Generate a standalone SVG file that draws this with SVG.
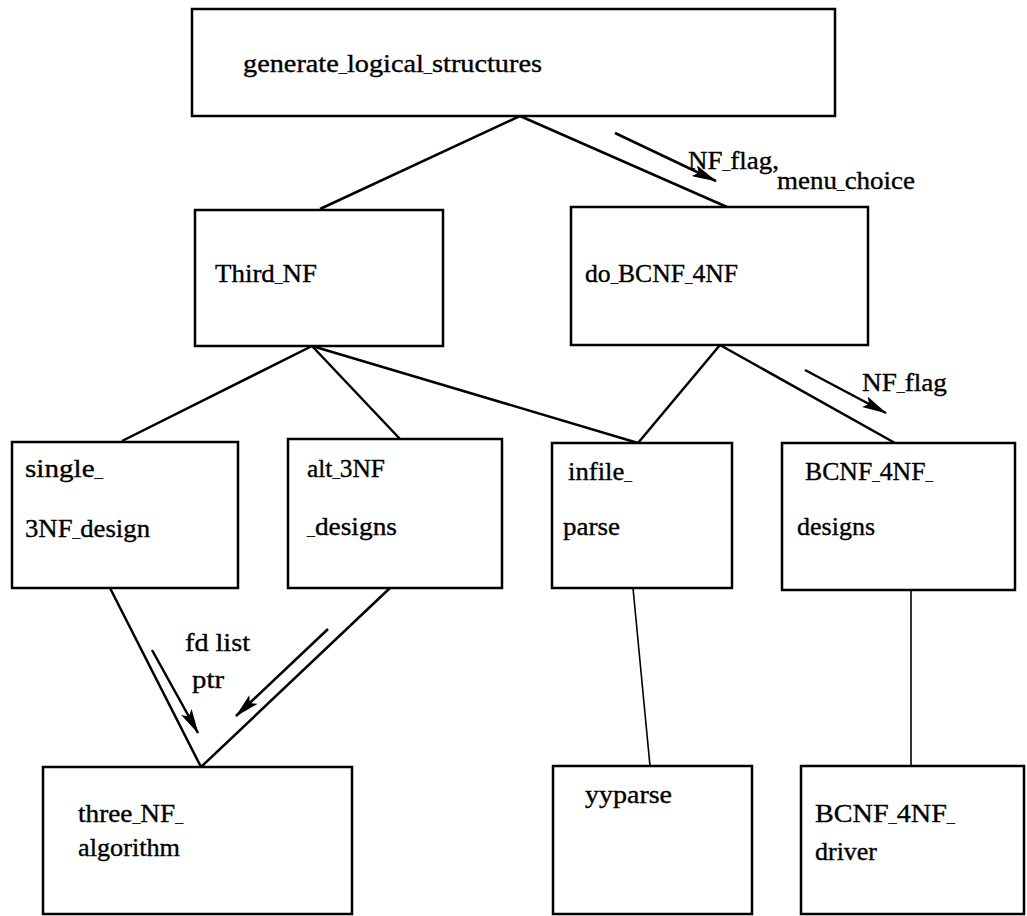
<svg xmlns="http://www.w3.org/2000/svg" width="1027" height="916" viewBox="0 0 1027 916">
  <style>
    .box { fill: #fff; stroke: #000; stroke-width: 2.5; }
    .link { fill: none; stroke: #000; stroke-width: 2.5; }
    .thin { fill: none; stroke: #000; stroke-width: 1.6; }
    .flow { fill: none; stroke: #000; stroke-width: 2.5; marker-end: url(#head); }
    text { font-family: "Liberation Serif", "Times New Roman", serif; font-size: 26px; fill: #000; stroke: #000; stroke-width: 0.35; }
    .u { font-size: 15px; }
  </style>
  <defs>
    <marker id="head" markerUnits="userSpaceOnUse" markerWidth="25" markerHeight="12" refX="24" refY="6" orient="auto">
      <path d="M0,0 L25,6 L0,12 L5,6 z" fill="#000"/>
    </marker>
  </defs>
  <rect width="1027" height="916" fill="#fff"/>

  <!-- connectors -->
  <g id="connectors">
    <line class="link" x1="520" y1="116" x2="320" y2="209"/>
    <line class="link" x1="520" y1="116" x2="727" y2="207"/>
    <line class="link" x1="312" y1="346" x2="122" y2="441"/>
    <line class="link" x1="312" y1="346" x2="400" y2="439"/>
    <line class="link" x1="312" y1="346" x2="638" y2="443"/>
    <line class="link" x1="720" y1="345" x2="638" y2="443"/>
    <line class="link" x1="720" y1="345" x2="895" y2="443"/>
    <line class="link" x1="110" y1="588" x2="201" y2="767"/>
    <line class="link" x1="390" y1="588" x2="201" y2="767"/>
    <line class="thin" x1="633" y1="588" x2="650" y2="766"/>
    <line class="thin" x1="911" y1="590" x2="911" y2="766"/>
    <!-- data-flow arrows -->
    <line class="flow" x1="615" y1="133" x2="716" y2="181"/>
    <line class="flow" x1="805" y1="370" x2="886" y2="413"/>
    <line class="flow" x1="152" y1="650" x2="198" y2="733"/>
    <line class="flow" x1="328" y1="629" x2="236" y2="716"/>
    <!-- flow labels -->
    <text x="688" y="169" textLength="91" lengthAdjust="spacingAndGlyphs">NF<tspan class="u">_</tspan>flag,</text>
    <text x="777" y="189" textLength="138" lengthAdjust="spacingAndGlyphs">menu<tspan class="u">_</tspan>choice</text>
    <text x="862" y="391" textLength="85" lengthAdjust="spacingAndGlyphs">NF<tspan class="u">_</tspan>flag</text>
    <text x="185" y="651" textLength="65" lengthAdjust="spacingAndGlyphs">fd list</text>
    <text x="192" y="688" textLength="32" lengthAdjust="spacingAndGlyphs">ptr</text>
  </g>

  <g id="generate_logical_structures">
    <rect class="box" x="192" y="9" width="643" height="107"/>
    <text x="243" y="72" textLength="299" lengthAdjust="spacingAndGlyphs">generate<tspan class="u">_</tspan>logical<tspan class="u">_</tspan>structures</text>
  </g>

  <g id="Third_NF">
    <rect class="box" x="195" y="210" width="248" height="136"/>
    <text x="215" y="282" textLength="102" lengthAdjust="spacingAndGlyphs">Third<tspan class="u">_</tspan>NF</text>
  </g>

  <g id="do_BCNF_4NF">
    <rect class="box" x="571" y="207" width="297" height="138"/>
    <text x="585" y="282" textLength="153" lengthAdjust="spacingAndGlyphs">do<tspan class="u">_</tspan>BCNF<tspan class="u">_</tspan>4NF</text>
  </g>

  <g id="single_3NF_design">
    <rect class="box" x="12" y="442" width="226" height="146"/>
    <text x="25" y="477" textLength="78" lengthAdjust="spacingAndGlyphs">single<tspan class="u">_</tspan></text>
    <text x="25" y="537" textLength="125" lengthAdjust="spacingAndGlyphs">3NF<tspan class="u">_</tspan>design</text>
  </g>

  <g id="alt_3NF_designs">
    <rect class="box" x="288" y="439" width="214" height="149"/>
    <text x="307" y="477" textLength="78" lengthAdjust="spacingAndGlyphs">alt<tspan class="u">_</tspan>3NF</text>
    <text x="307" y="535" textLength="90" lengthAdjust="spacingAndGlyphs"><tspan class="u">_</tspan>designs</text>
  </g>

  <g id="infile_parse">
    <rect class="box" x="552" y="443" width="180" height="145"/>
    <text x="568" y="480" textLength="64" lengthAdjust="spacingAndGlyphs">infile<tspan class="u">_</tspan></text>
    <text x="563" y="535" textLength="57" lengthAdjust="spacingAndGlyphs">parse</text>
  </g>

  <g id="BCNF_4NF_designs">
    <rect class="box" x="782" y="443" width="233" height="147"/>
    <text x="805" y="480" textLength="128" lengthAdjust="spacingAndGlyphs">BCNF<tspan class="u">_</tspan>4NF<tspan class="u">_</tspan></text>
    <text x="797" y="535" textLength="78" lengthAdjust="spacingAndGlyphs">designs</text>
  </g>

  <g id="three_NF_algorithm">
    <rect class="box" x="43" y="767" width="309" height="147"/>
    <text x="78" y="822" textLength="105" lengthAdjust="spacingAndGlyphs">three<tspan class="u">_</tspan>NF<tspan class="u">_</tspan></text>
    <text x="78" y="856" textLength="102" lengthAdjust="spacingAndGlyphs">algorithm</text>
  </g>

  <g id="yyparse">
    <rect class="box" x="553" y="766" width="199" height="148"/>
    <text x="585" y="803" textLength="87" lengthAdjust="spacingAndGlyphs">yyparse</text>
  </g>

  <g id="BCNF_4NF_driver">
    <rect class="box" x="801" y="766" width="223" height="148"/>
    <text x="815" y="822" textLength="140" lengthAdjust="spacingAndGlyphs">BCNF<tspan class="u">_</tspan>4NF<tspan class="u">_</tspan></text>
    <text x="815" y="860" textLength="62" lengthAdjust="spacingAndGlyphs">driver</text>
  </g>
</svg>
